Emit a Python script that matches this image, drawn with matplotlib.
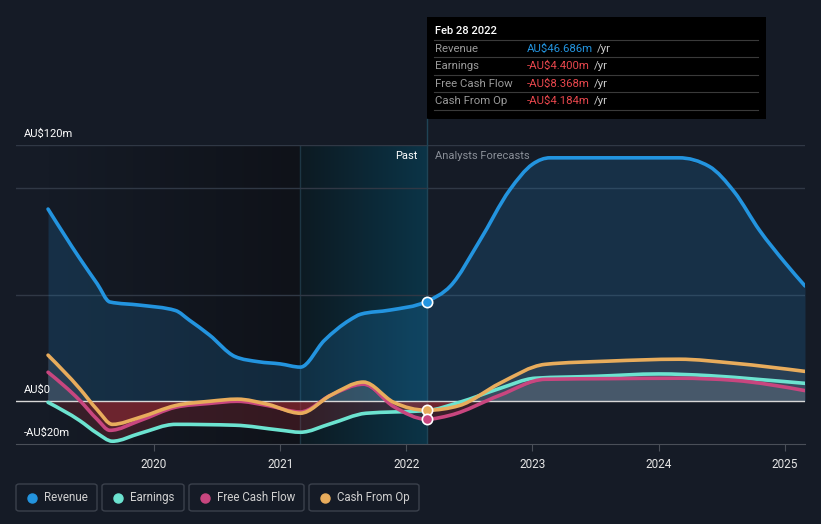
import matplotlib.pyplot as plt
import numpy as np
from matplotlib.patches import Rectangle, FancyBboxPatch, PathPatch
from matplotlib.path import Path
from matplotlib.colors import LinearSegmentedColormap

plt.rcParams['font.family'] = ['Roboto', 'DejaVu Sans']

# Data (AU$ millions, x in fractional years)
rev_x = [2019.16, 2019.41, 2019.55, 2019.65, 2019.89, 2020.17, 2020.28, 2020.44, 2020.64,
         2020.83, 2021.0, 2021.16, 2021.35, 2021.55, 2021.64, 2021.87, 2022.16,
         2022.35, 2022.58, 2022.82, 2023.0, 2023.14, 2023.6, 2024.16, 2024.4, 2024.6,
         2024.8, 2025.0, 2025.16]
rev_y = [90, 67, 55, 46.5, 45, 42.5, 38, 31, 21, 18.5, 17.5, 16, 28.5, 38, 40.8, 42.7, 46.7,
         54, 75, 99, 111, 114, 114, 114, 110, 98, 80, 65, 54]

ear_x = [2019.16, 2019.41, 2019.55, 2019.67, 2019.89, 2020.17, 2020.64, 2021.0, 2021.16,
         2021.4, 2021.68, 2021.9, 2022.16, 2022.42, 2022.74, 2023.02, 2023.5, 2024.0,
         2024.4, 2024.8, 2025.16]
ear_y = [-0.5, -9, -15, -18.7, -15, -10.8, -11.2, -13.5, -14.5, -10.5, -5.6, -5, -4.4,
         -0.5, 6, 10.8, 11.7, 12.8, 12, 10.2, 8.4]

fcf_x = [2019.16, 2019.41, 2019.55, 2019.65, 2019.89, 2020.17, 2020.44, 2020.66, 2020.9,
         2021.16, 2021.4, 2021.66, 2021.9, 2022.16, 2022.35, 2022.74, 2023.1, 2023.6,
         2024.16, 2024.6, 2025.16]
fcf_y = [13.6, 0.5, -8.5, -13.6, -9, -2.8, -1, 0, -2, -5, 2.8, 8, -2.5, -8.4, -6.5, 2.8,
         10.3, 10.6, 10.8, 9.8, 5]

cfo_x = [2019.16, 2019.41, 2019.55, 2019.67, 2019.89, 2020.17, 2020.44, 2020.66, 2020.9,
         2021.16, 2021.4, 2021.66, 2021.9, 2022.16, 2022.42, 2022.74, 2023.1, 2023.6,
         2024.16, 2024.6, 2025.16]
cfo_y = [21.6, 6, -4, -10.8, -7.5, -2, 0, 1, -1.4, -5.6, 2.8, 9, -0.5, -4.2, -2, 8.4,
         17.3, 18.8, 19.7, 17.8, 14]

names = ['Revenue', 'Earnings', 'Free Cash Flow', 'Cash From Op']
colors = ['#2394df', '#6ce3d0', '#c8467f', '#e8ac5c']
tip_vals = ['AU$46.686m', '-AU$4.400m', '-AU$8.368m', '-AU$4.184m']
yticks = [120, 0, -20]
ytick_labels = ['AU$120m', 'AU$0', '-AU$20m']
years = [2020, 2021, 2022, 2023, 2024, 2025]
now = 2022.16
past_start = 2021.16

W, H = 821, 524
bg = '#151b26'


def fx(x):
    return x / W


def fy(y):
    return 1 - y / H


def monotone_path(xs, ys):
    # monotone cubic (like d3 curveMonotoneX) as bezier path
    x = np.asarray(xs, float)
    y = np.asarray(ys, float)
    n = len(x)
    h = np.diff(x)
    s = np.diff(y) / h
    t = np.zeros(n)
    for i in range(1, n - 1):
        if s[i - 1] * s[i] <= 0:
            t[i] = 0
        else:
            p = (s[i - 1] * h[i] + s[i] * h[i - 1]) / (h[i - 1] + h[i])
            t[i] = np.sign(s[i - 1]) * min(abs(s[i - 1]), abs(s[i]), 0.5 * abs(p)) * 2
    t[0] = (3 * s[0] - t[1]) / 2 if n > 2 else s[0]
    t[-1] = (3 * s[-1] - t[-2]) / 2 if n > 2 else s[-1]
    verts = [(x[0], y[0])]
    codes = [Path.MOVETO]
    for i in range(n - 1):
        dx = h[i] / 3
        verts += [(x[i] + dx, y[i] + dx * t[i]), (x[i + 1] - dx, y[i + 1] - dx * t[i + 1]), (x[i + 1], y[i + 1])]
        codes += [Path.CURVE4] * 3
    return Path(verts, codes)


fig = plt.figure(figsize=(W / 100, H / 100), dpi=100, facecolor=bg)
ax = fig.add_axes([fx(16), fy(444), fx(805) - fx(16), fy(145) - fy(444)])
ax.set_facecolor(bg)
ax.set_xlim(2018.906, 2025.16)
ax.set_ylim(-20, 120)

# background regions
grad = np.linspace(0, 1, 200).reshape(1, -1)
cm_dark = LinearSegmentedColormap.from_list('d', ['#151b26', '#0f1219'])
ax.imshow(grad, extent=[2019.16, past_start, -20, 120], aspect='auto', cmap=cm_dark, zorder=0)
cm_teal = LinearSegmentedColormap.from_list('t', ['#0d1a22', '#0b3447'])
ax.imshow(grad, extent=[past_start, now, -20, 120], aspect='auto', cmap=cm_teal, zorder=0)
ax.axvline(past_start, color='#1d3644', lw=1, zorder=1)

for g in [50, 100, 120]:
    ax.axhline(g, color='#303845', lw=1, zorder=1)
ax.axhline(0, color='#d8d8d8', lw=1, zorder=4)

# fills
ax.fill_between(rev_x, rev_y, 0, color='#2394df', alpha=0.18, lw=0, zorder=2)
for xs, ys in [(ear_x, ear_y), (fcf_x, fcf_y), (cfo_x, cfo_y)]:
    xs = np.array(xs)
    ys = np.array(ys)
    ax.fill_between(xs, ys, 0, where=ys >= 0, interpolate=True, color='#b0b0b8', alpha=0.12, lw=0, zorder=2)
    ax.fill_between(xs, ys, 0, where=ys <= 0, interpolate=True, color='#c0303a', alpha=0.22, lw=0, zorder=2)

series = [(rev_x, rev_y), (ear_x, ear_y), (fcf_x, fcf_y), (cfo_x, cfo_y)]
for (xs, ys), c in zip(series, colors):
    ax.add_patch(PathPatch(monotone_path(xs, ys), facecolor='none', edgecolor=c, lw=2.6,
                           capstyle='round', joinstyle='round', zorder=5))

# markers at now
for (xs, ys), c in zip([series[0], series[3], series[2]], [colors[0], colors[3], colors[2]]):
    ax.scatter([now], [np.interp(now, xs, ys)], s=55, color=c, edgecolor='white', linewidth=1.2, zorder=7)

ax.axvline(now, color='#1f4456', lw=1, zorder=1)

for s in ax.spines.values():
    s.set_visible(False)
ax.spines['bottom'].set_visible(True)
ax.spines['bottom'].set_color('#4a4f58')
ax.set_yticks([])
ax.set_xticks(years)
ax.set_xticklabels([str(y) for y in years])
ax.tick_params(axis='x', colors='#4a4f58', length=5, labelcolor='#e6e6e6', labelsize=8.5, pad=5)

for v, lab in zip(yticks, ytick_labels):
    ax.text(2018.97, v + 3, lab, color='#ffffff', fontsize=8, va='bottom', ha='left', zorder=6)

ax.text(now - 0.07, 115, 'Past', color='#ffffff', fontsize=8, ha='right', va='center', zorder=6)
ax.text(now + 0.07, 115, 'Analysts Forecasts', color='#8a8f98', fontsize=8, ha='left', va='center', zorder=6)

# vertical line above axes up to tooltip
fig.add_artist(plt.Line2D([fx(427), fx(427)], [fy(145), fy(119)], color='#1f4456', lw=1))

# tooltip
fig.add_artist(Rectangle((fx(427), fy(119)), fx(766) - fx(427), fy(17) - fy(119),
                         facecolor='#000000', edgecolor='none', transform=fig.transFigure))
fig.text(fx(435), fy(31), 'Feb 28 2022', color='#ffffff', fontsize=8, fontweight='medium', va='center', ha='left')
row_y = [49, 66, 84, 101]
for i, (n, c, v) in enumerate(zip(names, colors, tip_vals)):
    yy = row_y[i]
    fig.add_artist(plt.Line2D([fx(434), fx(758)], [fy(yy - 9), fy(yy - 9)], color='#3a3a3a', lw=0.8))
    fig.text(fx(435), fy(yy), n, color='#9a9a9a', fontsize=8.2, va='center', ha='left')
    vc = '#2394df' if i == 0 else '#e8474d'
    t = fig.text(fx(527), fy(yy), v, color=vc, fontsize=8.2, va='center', ha='left')
    fig.add_artist(plt.Annotation('/yr', xy=(1, 0.5), xycoords=t, xytext=(3, 0), textcoords='offset points',
                                  color='#cccccc', fontsize=8.2, va='center', ha='left'))
fig.add_artist(plt.Line2D([fx(434), fx(758)], [fy(110), fy(110)], color='#3a3a3a', lw=0.8))

# legend
leg = [(16, 97), (102, 184), (189, 304), (309, 419)]
for (x0, x1), n, c in zip(leg, names, colors):
    fig.add_artist(FancyBboxPatch((fx(x0), fy(511)), fx(x1) - fx(x0), fy(484) - fy(511),
                                  boxstyle='round,pad=0,rounding_size=0.004', facecolor=bg,
                                  edgecolor='#3b414c', lw=1, transform=fig.transFigure))
    fig.add_artist(plt.Line2D([fx(x0 + 16)], [fy(497.5)], marker='o', ms=6.5, color=c, lw=0))
    fig.text(fx(x0 + 28), fy(497.5), n, color='#d0d0d0', fontsize=8.3, va='center', ha='left')

fig.savefig('out.png', dpi=100, facecolor=bg)
